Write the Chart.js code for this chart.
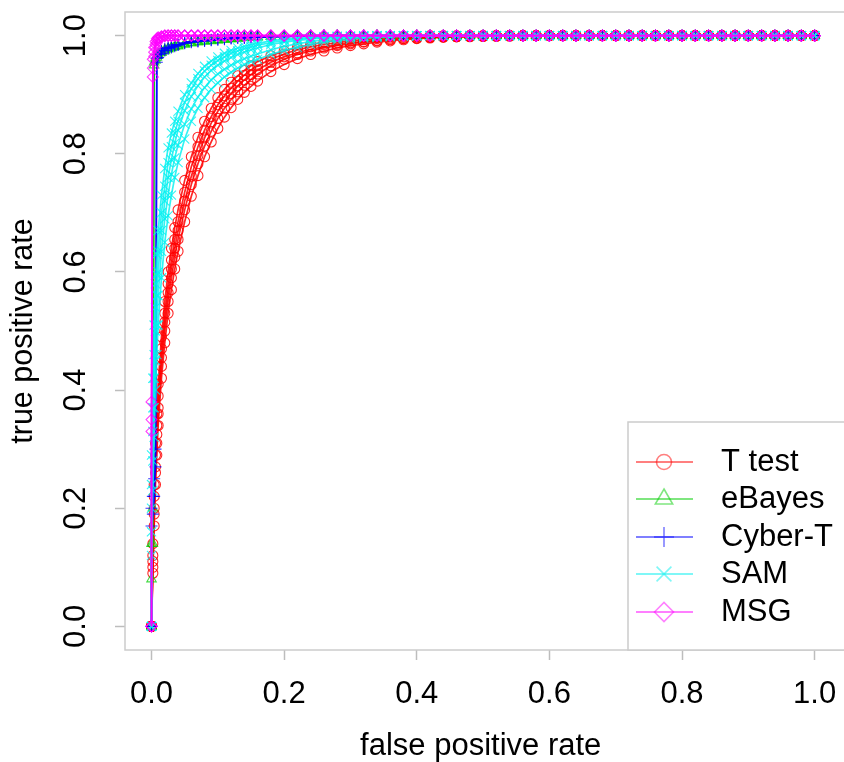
<!DOCTYPE html>
<html>
<head>
<meta charset="utf-8">
<script src="https://cdn.jsdelivr.net/npm/chart.js"></script>
<style>
  html, body { margin: 0; padding: 0; background: #fff; }
  canvas { display: block; }
</style>
</head>
<body>
<canvas id="rocChart" width="844" height="762"></canvas>
<script>
// false positive rate grid shared by all runs
var fpr = [0, 0, 0.002, 0.004, 0.006, 0.008, 0.01, 0.015, 0.02, 0.025, 0.03, 0.035, 0.04,
  0.05, 0.06, 0.07, 0.08, 0.09, 0.10, 0.11, 0.12, 0.13, 0.14, 0.15, 0.16,
  0.18, 0.20, 0.22, 0.24, 0.26, 0.28, 0.30, 0.32, 0.34, 0.36, 0.38, 0.40, 0.42, 0.44,
  0.46, 0.48, 0.50, 0.52, 0.54, 0.56, 0.58, 0.60, 0.62, 0.64, 0.66, 0.68, 0.70, 0.72,
  0.74, 0.76, 0.78, 0.80, 0.82, 0.84, 0.86, 0.88, 0.90, 0.92, 0.94, 0.96, 0.98, 1.00];

// true positive rate, T test runs
var tTest1 = [0, 0, 0.14, 0.24, 0.31, 0.36, 0.41, 0.49, 0.55, 0.60, 0.64, 0.675, 0.705,
  0.755, 0.795, 0.828, 0.855, 0.877, 0.895, 0.909, 0.921, 0.932, 0.941, 0.949, 0.956,
  0.966, 0.974, 0.980, 0.985, 0.989, 0.992, 0.994, 0.996, 0.997, 0.998, 0.999, 0.999, 1, 1,
  1, 1, 1, 1, 1, 1, 1, 1, 1, 1, 1, 1, 1, 1,
  1, 1, 1, 1, 1, 1, 1, 1, 1, 1, 1, 1, 1, 1];
var tTest2 = [0, 0, 0.12, 0.22, 0.29, 0.34, 0.39, 0.47, 0.53, 0.58, 0.62, 0.655, 0.685,
  0.735, 0.778, 0.812, 0.84, 0.863, 0.883, 0.898, 0.911, 0.923, 0.933, 0.942, 0.949,
  0.96, 0.969, 0.976, 0.981, 0.985, 0.988, 0.991, 0.993, 0.995, 0.996, 0.997, 0.998, 0.998, 0.999,
  0.999, 1, 1, 1, 1, 1, 1, 1, 1, 1, 1, 1, 1, 1,
  1, 1, 1, 1, 1, 1, 1, 1, 1, 1, 1, 1, 1, 1];
var tTest3 = [0, 0, 0.11, 0.2, 0.27, 0.325, 0.37, 0.455, 0.515, 0.565, 0.605, 0.64, 0.67,
  0.72, 0.762, 0.797, 0.827, 0.852, 0.872, 0.888, 0.902, 0.915, 0.925, 0.934, 0.942,
  0.955, 0.964, 0.971, 0.977, 0.981, 0.985, 0.988, 0.99, 0.992, 0.994, 0.995, 0.996, 0.997, 0.998,
  0.998, 0.999, 0.999, 1, 1, 1, 1, 1, 1, 1, 1, 1, 1, 1,
  1, 1, 1, 1, 1, 1, 1, 1, 1, 1, 1, 1, 1, 1];
var tTest4 = [0, 0, 0.1, 0.19, 0.26, 0.31, 0.36, 0.44, 0.5, 0.55, 0.59, 0.625, 0.655,
  0.705, 0.748, 0.783, 0.813, 0.838, 0.86, 0.877, 0.892, 0.905, 0.916, 0.926, 0.935,
  0.949, 0.96, 0.968, 0.974, 0.979, 0.983, 0.986, 0.989, 0.991, 0.993, 0.995, 0.996, 0.997, 0.998,
  0.998, 0.999, 0.999, 0.999, 1, 1, 1, 1, 1, 1, 1, 1, 1, 1,
  1, 1, 1, 1, 1, 1, 1, 1, 1, 1, 1, 1, 1, 1];
var tTest5 = [0, 0, 0.09, 0.17, 0.24, 0.29, 0.34, 0.42, 0.48, 0.53, 0.57, 0.605, 0.635,
  0.685, 0.728, 0.763, 0.795, 0.82, 0.843, 0.862, 0.878, 0.892, 0.904, 0.914, 0.923,
  0.939, 0.951, 0.961, 0.968, 0.974, 0.979, 0.983, 0.986, 0.989, 0.991, 0.993, 0.995, 0.996, 0.997,
  0.998, 0.998, 0.999, 0.999, 0.999, 1, 1, 1, 1, 1, 1, 1, 1, 1,
  1, 1, 1, 1, 1, 1, 1, 1, 1, 1, 1, 1, 1, 1];

// eBayes runs
var eBayes1 = [0, 0.14, 0.2, 0.955, 0.962, 0.966, 0.969, 0.973, 0.976, 0.978, 0.98, 0.982, 0.983,
  0.986, 0.988, 0.99, 0.991, 0.992, 0.993, 0.994, 0.995, 0.996, 0.997, 0.997, 0.998,
  0.999, 0.999, 1, 1, 1, 1, 1, 1, 1, 1, 1, 1, 1, 1,
  1, 1, 1, 1, 1, 1, 1, 1, 1, 1, 1, 1, 1, 1,
  1, 1, 1, 1, 1, 1, 1, 1, 1, 1, 1, 1, 1, 1];
var eBayes2 = [0, 0.08, 0.14, 0.95, 0.958, 0.963, 0.966, 0.971, 0.974, 0.977, 0.979, 0.981, 0.982,
  0.985, 0.987, 0.989, 0.99, 0.991, 0.992, 0.993, 0.994, 0.995, 0.996, 0.997, 0.997,
  0.998, 0.999, 0.999, 1, 1, 1, 1, 1, 1, 1, 1, 1, 1, 1,
  1, 1, 1, 1, 1, 1, 1, 1, 1, 1, 1, 1, 1, 1,
  1, 1, 1, 1, 1, 1, 1, 1, 1, 1, 1, 1, 1, 1];

// Cyber-T runs
var cyberT1 = [0, 0.2, 0.22, 0.25, 0.3, 0.962, 0.968, 0.974, 0.978, 0.98, 0.982, 0.984, 0.985,
  0.988, 0.99, 0.991, 0.992, 0.993, 0.994, 0.995, 0.996, 0.997, 0.997, 0.998, 0.998,
  0.999, 0.999, 1, 1, 1, 1, 1, 1, 1, 1, 1, 1, 1, 1,
  1, 1, 1, 1, 1, 1, 1, 1, 1, 1, 1, 1, 1, 1,
  1, 1, 1, 1, 1, 1, 1, 1, 1, 1, 1, 1, 1, 1];
var cyberT2 = [0, 0.17, 0.19, 0.22, 0.27, 0.955, 0.963, 0.97, 0.975, 0.978, 0.98, 0.982, 0.984,
  0.987, 0.989, 0.99, 0.991, 0.992, 0.993, 0.994, 0.995, 0.996, 0.996, 0.997, 0.997,
  0.998, 0.998, 0.999, 0.999, 1, 1, 1, 1, 1, 1, 1, 1, 1, 1,
  1, 1, 1, 1, 1, 1, 1, 1, 1, 1, 1, 1, 1, 1,
  1, 1, 1, 1, 1, 1, 1, 1, 1, 1, 1, 1, 1, 1];

// SAM runs
var sam1 = [0, 0.29, 0.42, 0.51, 0.58, 0.63, 0.67, 0.73, 0.775, 0.81, 0.835, 0.855, 0.872,
  0.9, 0.92, 0.936, 0.948, 0.957, 0.964, 0.97, 0.975, 0.979, 0.982, 0.985, 0.987,
  0.991, 0.994, 0.996, 0.997, 0.998, 0.999, 0.999, 1, 1, 1, 1, 1, 1, 1,
  1, 1, 1, 1, 1, 1, 1, 1, 1, 1, 1, 1, 1, 1,
  1, 1, 1, 1, 1, 1, 1, 1, 1, 1, 1, 1, 1, 1];
var sam2 = [0, 0.24, 0.37, 0.46, 0.54, 0.595, 0.635, 0.7, 0.745, 0.785, 0.812, 0.835, 0.855,
  0.887, 0.91, 0.927, 0.94, 0.95, 0.958, 0.964, 0.97, 0.974, 0.978, 0.981, 0.984,
  0.988, 0.992, 0.994, 0.996, 0.997, 0.998, 0.999, 0.999, 1, 1, 1, 1, 1, 1,
  1, 1, 1, 1, 1, 1, 1, 1, 1, 1, 1, 1, 1, 1,
  1, 1, 1, 1, 1, 1, 1, 1, 1, 1, 1, 1, 1, 1];
var sam3 = [0, 0.2, 0.33, 0.42, 0.5, 0.56, 0.6, 0.67, 0.72, 0.76, 0.79, 0.818, 0.84,
  0.873, 0.897, 0.915, 0.93, 0.941, 0.95, 0.957, 0.963, 0.968, 0.972, 0.976, 0.979,
  0.985, 0.989, 0.992, 0.994, 0.996, 0.997, 0.998, 0.999, 0.999, 1, 1, 1, 1, 1,
  1, 1, 1, 1, 1, 1, 1, 1, 1, 1, 1, 1, 1, 1,
  1, 1, 1, 1, 1, 1, 1, 1, 1, 1, 1, 1, 1, 1];
var sam4 = [0, 0.16, 0.28, 0.37, 0.45, 0.51, 0.56, 0.635, 0.69, 0.73, 0.765, 0.793, 0.815,
  0.85, 0.876, 0.896, 0.912, 0.925, 0.935, 0.943, 0.95, 0.956, 0.961, 0.965, 0.969,
  0.976, 0.982, 0.986, 0.99, 0.993, 0.995, 0.997, 0.998, 0.999, 0.999, 1, 1, 1, 1,
  1, 1, 1, 1, 1, 1, 1, 1, 1, 1, 1, 1, 1, 1,
  1, 1, 1, 1, 1, 1, 1, 1, 1, 1, 1, 1, 1, 1];
var sam5 = [0, 0.12, 0.23, 0.32, 0.4, 0.46, 0.51, 0.59, 0.65, 0.695, 0.73, 0.76, 0.785,
  0.825, 0.855, 0.877, 0.895, 0.909, 0.92, 0.93, 0.938, 0.945, 0.951, 0.956, 0.96,
  0.968, 0.975, 0.98, 0.985, 0.989, 0.992, 0.994, 0.996, 0.997, 0.998, 0.999, 0.999, 1, 1,
  1, 1, 1, 1, 1, 1, 1, 1, 1, 1, 1, 1, 1, 1,
  1, 1, 1, 1, 1, 1, 1, 1, 1, 1, 1, 1, 1, 1];

// MSG runs
var msg1 = [0, 0.35, 0.96, 0.98, 0.99, 0.995, 0.997, 0.999, 1, 1, 1, 1, 1,
  1, 1, 1, 1, 1, 1, 1, 1, 1, 1, 1, 1,
  1, 1, 1, 1, 1, 1, 1, 1, 1, 1, 1, 1, 1, 1,
  1, 1, 1, 1, 1, 1, 1, 1, 1, 1, 1, 1, 1, 1,
  1, 1, 1, 1, 1, 1, 1, 1, 1, 1, 1, 1, 1, 1];
var msg2 = [0, 0.38, 0.93, 0.965, 0.98, 0.988, 0.993, 0.997, 0.999, 1, 1, 1, 1,
  1, 1, 1, 1, 1, 1, 1, 1, 1, 1, 1, 1,
  1, 1, 1, 1, 1, 1, 1, 1, 1, 1, 1, 1, 1, 1,
  1, 1, 1, 1, 1, 1, 1, 1, 1, 1, 1, 1, 1, 1,
  1, 1, 1, 1, 1, 1, 1, 1, 1, 1, 1, 1, 1, 1];
var msg3 = [0, 0.33, 0.945, 0.972, 0.985, 0.992, 0.996, 0.998, 1, 1, 1, 1, 1,
  1, 1, 1, 1, 1, 1, 1, 1, 1, 1, 1, 1,
  1, 1, 1, 1, 1, 1, 1, 1, 1, 1, 1, 1, 1, 1,
  1, 1, 1, 1, 1, 1, 1, 1, 1, 1, 1, 1, 1, 1,
  1, 1, 1, 1, 1, 1, 1, 1, 1, 1, 1, 1, 1, 1];

var tickVals = [0, 0.2, 0.4, 0.6, 0.8, 1.0];
var fontFam = '"Liberation Sans", Arial, sans-serif';

var methods = [
  {label: 'T test', runs: [tTest1, tTest2, tTest3, tTest4, tTest5], rgb: '255,0,0', a: 0.85, style: 'circle', r: 5, lr: 7.5, order: 5},
  {label: 'eBayes', runs: [eBayes1, eBayes2], rgb: '0,205,0', a: 0.72, style: 'triangle', r: 5.5, lr: 10, order: 4},
  {label: 'Cyber-T', runs: [cyberT1, cyberT2], rgb: '0,0,255', a: 0.8, style: 'cross', r: 6, lr: 10, order: 3},
  {label: 'SAM', runs: [sam1, sam2, sam3, sam4, sam5], rgb: '0,240,240', a: 0.8, style: 'crossRot', r: 6.5, lr: 10.5, order: 2},
  {label: 'MSG', runs: [msg1, msg2, msg3], rgb: '255,0,255', a: 0.75, style: 'rectRot', r: 5.5, lr: 9.5, order: 1}
];

var datasets = [];
methods.forEach(function (m) {
  var col = 'rgba(' + m.rgb + ',' + m.a + ')';
  m.runs.forEach(function (run) {
    datasets.push({
      label: m.label,
      data: fpr.map(function (x, i) { return {x: x, y: run[i]}; }),
      borderColor: col,
      borderWidth: 1.7,
      pointStyle: m.style,
      pointRadius: m.r,
      pointBorderColor: col,
      pointBackgroundColor: 'rgba(0,0,0,0)',
      pointBorderWidth: 1.1,
      tension: 0,
      order: m.order
    });
  });
});

// R-style box and legend
var boxAndLegend = {
  id: 'boxAndLegend',
  afterDraw: function (chart) {
    var ctx = chart.ctx, a = chart.chartArea;
    ctx.save();
    ctx.strokeStyle = '#cccccc';
    ctx.lineWidth = 1.5;
    ctx.strokeRect(a.left, a.top, a.right - a.left + 10, a.bottom - a.top);

    // legend
    ctx.fillStyle = '#fff';
    ctx.fillRect(628, 422, 230, a.bottom - 422);
    ctx.strokeRect(628, 422, 230, a.bottom - 422);
    var rows = [462, 499, 537, 574, 612];
    methods.forEach(function (m, i) {
      var y = rows[i];
      var pale = 'rgba(' + m.rgb + ',0.5)';
      ctx.strokeStyle = pale;
      ctx.lineWidth = 2;
      ctx.beginPath();
      ctx.moveTo(636, y);
      ctx.lineTo(693, y);
      ctx.stroke();
      ctx.fillStyle = 'rgba(0,0,0,0)';
      ctx.lineWidth = 1.6;
      Chart.helpers.drawPoint(ctx, {pointStyle: m.style, radius: m.lr, borderWidth: 1.6}, 664, y);
      ctx.fillStyle = '#000';
      ctx.font = '31px ' + fontFam;
      ctx.textBaseline = 'middle';
      ctx.textAlign = 'left';
      ctx.fillText(m.label, 721, y);
    });
    ctx.restore();
  }
};

var ctx = document.getElementById('rocChart');
var rocChart = new Chart(ctx, {
  type: 'line',
  data: {datasets: datasets},
  options: {
    responsive: false,
    animation: false,
    devicePixelRatio: 1,
    layout: {padding: {top: 12, right: 0, bottom: 0, left: 0}},
    plugins: {legend: {display: false}, tooltip: {enabled: false}},
    scales: {
      x: {
        type: 'linear',
        min: -0.04,
        max: 1.0328,
        afterBuildTicks: function (s) { s.ticks = tickVals.map(function (v) { return {value: v}; }); },
        afterFit: function (s) { s.height = 112; s.paddingLeft = 0; s.paddingRight = 0; },
        ticks: {
          font: {family: fontFam, size: 31},
          color: '#000',
          padding: 16,
          maxRotation: 0,
          minRotation: 0,
          autoSkip: false,
          callback: function (v) { return v.toFixed(1); }
        },
        grid: {drawOnChartArea: false, drawTicks: true, tickLength: 10, tickColor: '#bdbdbd', tickWidth: 1.5},
        border: {display: false},
        title: {display: true, text: 'false positive rate', color: '#000',
          font: {family: fontFam, size: 31, lineHeight: 1}, padding: {top: 0, bottom: 0.5}}
      },
      y: {
        type: 'linear',
        min: -0.04,
        max: 1.04,
        afterBuildTicks: function (s) { s.ticks = tickVals.map(function (v) { return {value: v}; }); },
        afterFit: function (s) { s.width = 125; s.paddingTop = 0; s.paddingBottom = 0; },
        ticks: {
          font: {family: fontFam, size: 31},
          color: '#000',
          padding: 16.5,
          minRotation: 90,
          maxRotation: 90,
          crossAlign: 'center',
          autoSkip: false,
          callback: function (v) { return v.toFixed(1); }
        },
        grid: {drawOnChartArea: false, drawTicks: true, tickLength: 10, tickColor: '#bdbdbd', tickWidth: 1.5},
        border: {display: false},
        title: {display: true, text: 'true positive rate', color: '#000',
          font: {family: fontFam, size: 30.5, lineHeight: 1}, padding: {top: 8.5, bottom: 0}}
      }
    }
  },
  plugins: [boxAndLegend]
});
</script>
</body>
</html>
